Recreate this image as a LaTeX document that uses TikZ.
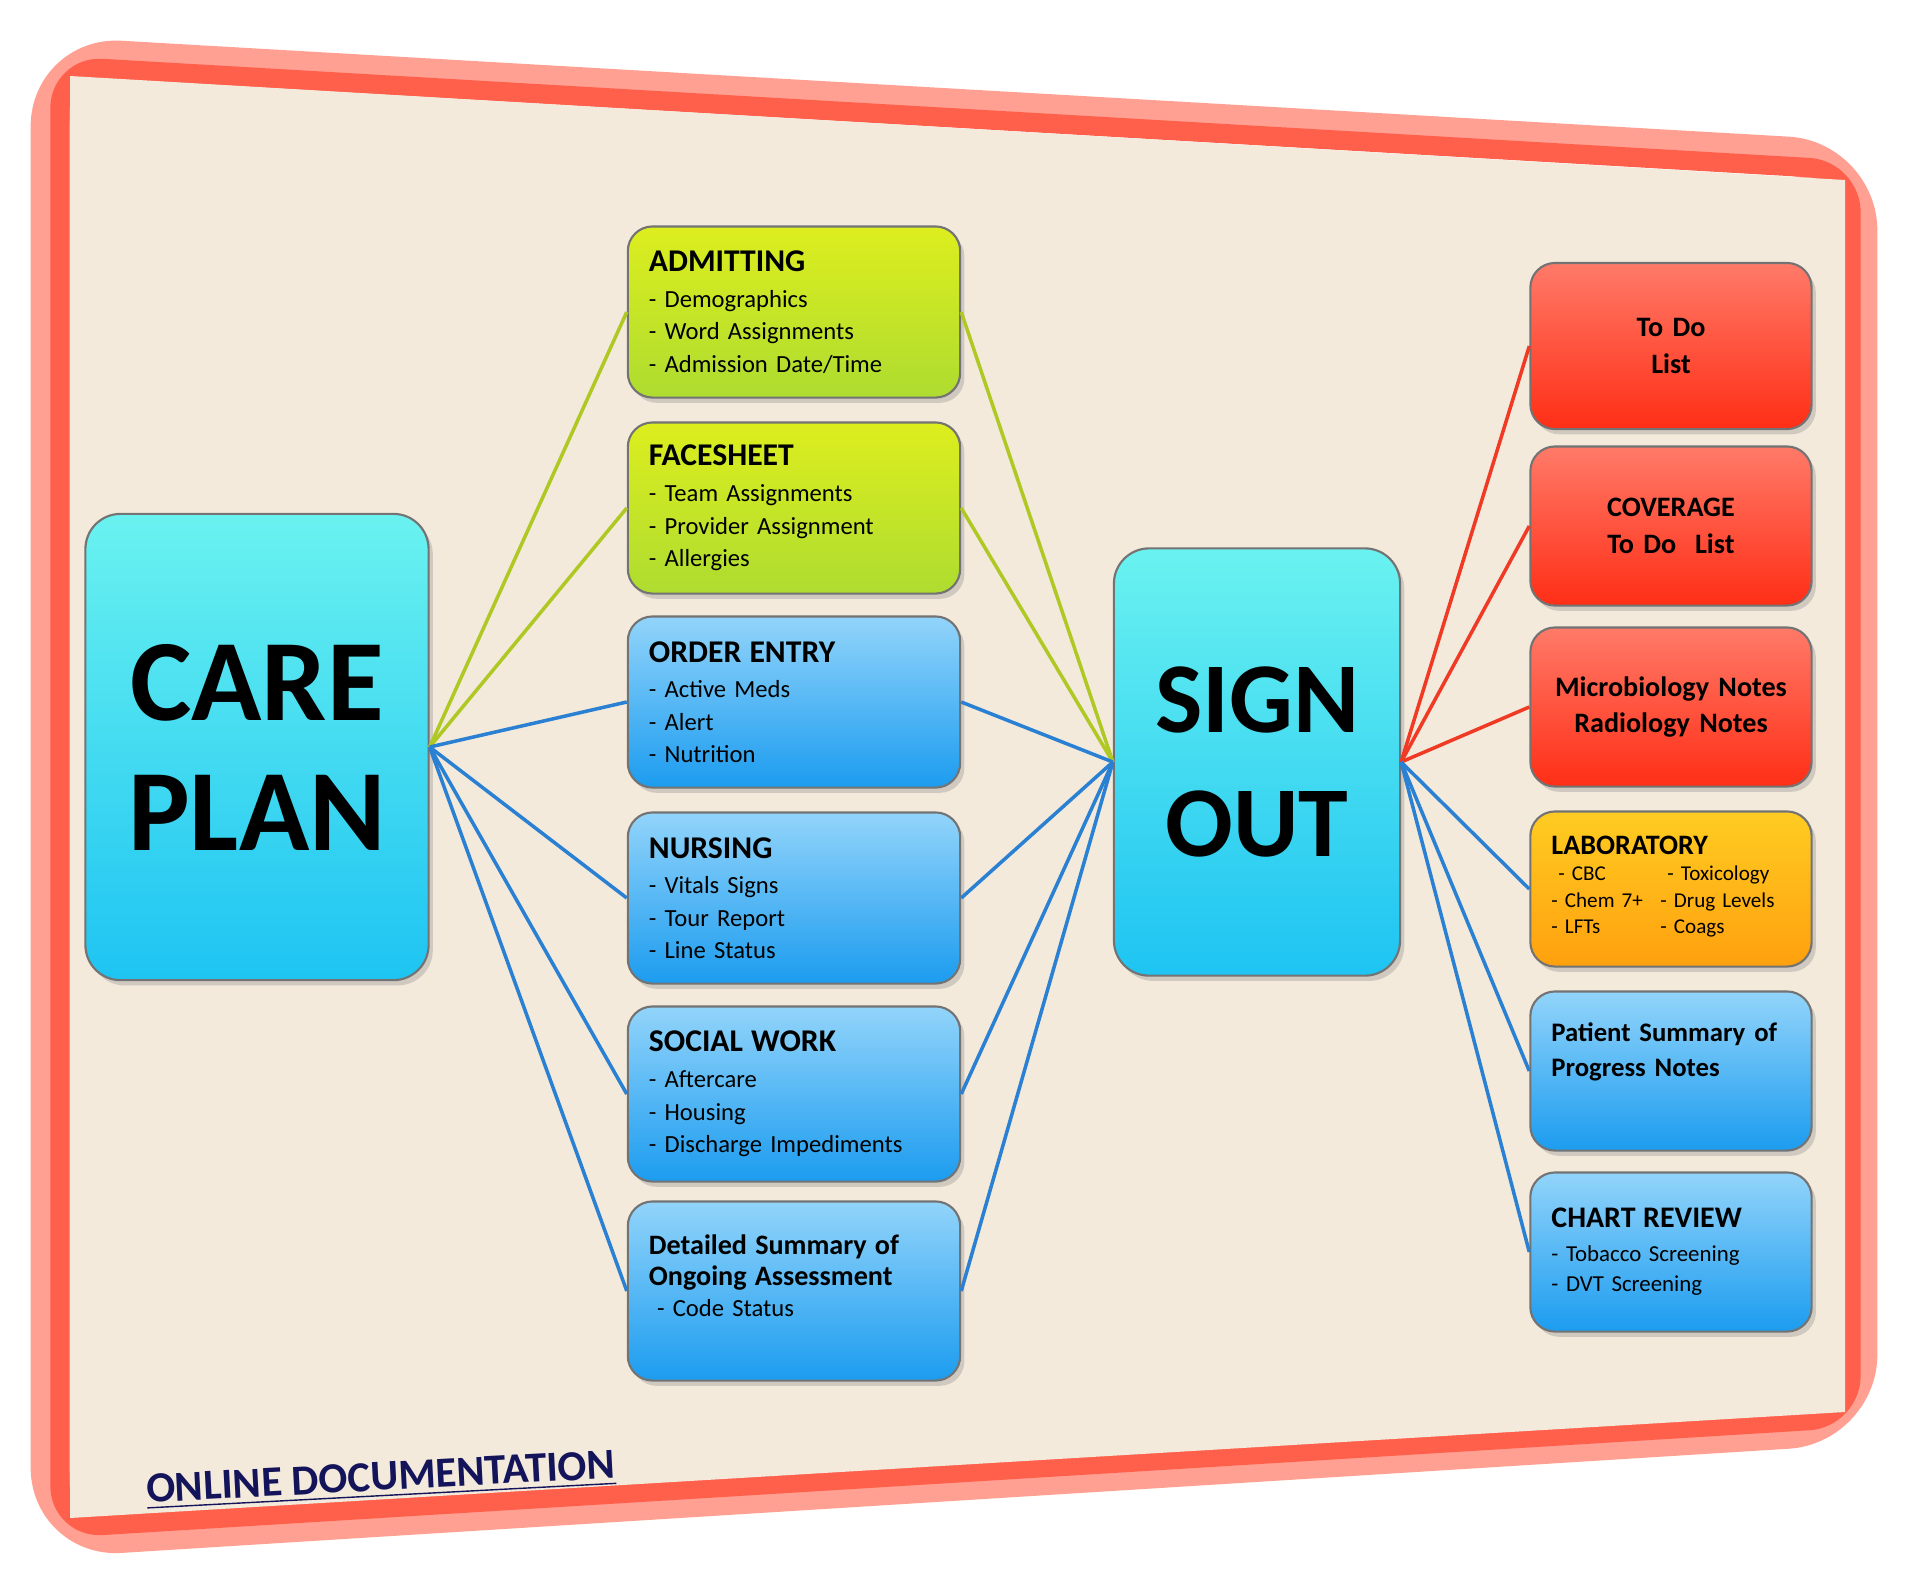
\documentclass[tikz,border=0pt]{standalone}
\usepackage{fontspec}
\setmainfont{Carlito}
\usetikzlibrary{shadows}
\newcommand{\hdr}[1]{{\fontsize{9}{10}\selectfont\bfseries #1}}

\begin{document}
\begin{tikzpicture}[x=0.01cm,y=-0.01cm,
  box/.style={rectangle,rounded corners=7pt,draw=black!55,line width=0.6pt,
    drop shadow={opacity=0.3,shadow xshift=1.2pt,shadow yshift=-1.5pt},
    inner xsep=6pt,align=left,font=\fontsize{7}{9.2}\selectfont},
  midbox/.style={box,text width=2.9cm,minimum height=1.71cm},
  rightbox/.style={box,text width=2.39cm,minimum height=1.59cm},
  bigbox/.style={box,rounded corners=10pt,top color=cyanT,bottom color=cyanB,align=center},
  leafbox/.style={top color=leafT,bottom color=leafB},
  skybox/.style={top color=skyT,bottom color=skyB},
  redbox/.style={top color=redT,bottom color=redB,align=center,text width=2.6cm,inner xsep=3pt,
    font=\fontsize{8}{10.5}\selectfont\bfseries},
  leafline/.style={draw=leafL,line width=1pt},
  skyline/.style={draw=skyL,line width=1pt},
  redline/.style={draw=redL,line width=1pt}]
\definecolor{cream}{HTML}{F3EADC}
\definecolor{framepink}{HTML}{FFA092}
\definecolor{framered}{HTML}{FF604C}
\definecolor{cyanT}{HTML}{6AF2F0}
\definecolor{cyanB}{HTML}{1EC4F2}
\definecolor{leafT}{HTML}{DDEE1E}
\definecolor{leafB}{HTML}{AEDC30}
\definecolor{skyT}{HTML}{92D4FA}
\definecolor{skyB}{HTML}{1C9CEF}
\definecolor{redT}{HTML}{FF7A68}
\definecolor{redB}{HTML}{FF2E16}
\definecolor{orangeT}{HTML}{FFCC22}
\definecolor{orangeB}{HTML}{FFA00E}
\definecolor{leafL}{HTML}{AFC824}
\definecolor{skyL}{HTML}{2A80D2}
\definecolor{redL}{HTML}{F03A24}
\definecolor{navy}{HTML}{14145A}
\useasboundingbox (0,0) rectangle (1920,1593);
\fill[white] (0,0) rectangle (1920,1593);
% frame
\draw[framepink,line width=11pt,rounded corners=20pt,line join=round]
  (50,56) -- (1858,160) -- (1858,1425) -- (50,1538) -- cycle;
\draw[framered,line width=5.5pt,rounded corners=12pt,line join=round]
  (60,66) -- (1851,170) -- (1851,1418) -- (60,1528) -- cycle;
\fill[cream] (70,76) -- (1845,180) -- (1845,1412) -- (70,1518) -- cycle;

% left and centre hubs
\node[bigbox,minimum width=3.43cm,minimum height=4.66cm,font=\fontsize{33}{37}\selectfont\bfseries]
  (careplan) at (257,747) {CARE\\PLAN};
\node[bigbox,minimum width=2.86cm,minimum height=4.27cm,font=\fontsize{28.5}{35}\selectfont\bfseries]
  (signout) at (1257,762) {SIGN\\OUT};

% middle column
\node[midbox,leafbox] (admitting) at (794,312) {\hdr{ADMITTING}\\[1pt]
  - Demographics\\- Word Assignments\\- Admission Date/Time};
\node[midbox,leafbox] (facesheet) at (794,508) {\hdr{FACESHEET}\\[1pt]
  - Team Assignments\\- Provider Assignment\\- Allergies};
\node[midbox,skybox] (orderentry) at (794,702) {\hdr{ORDER ENTRY}\\[1pt]
  - Active Meds\\- Alert\\- Nutrition};
\node[midbox,skybox] (nursing) at (794,898) {\hdr{NURSING}\\[1pt]
  - Vitals Signs\\- Tour Report\\- Line Status};
\node[midbox,skybox,minimum height=1.75cm] (socialwork) at (794,1094) {\hdr{SOCIAL WORK}\\[1pt]
  - Aftercare\\- Housing\\- Discharge Impediments};
\node[midbox,skybox,minimum height=1.79cm,font=\fontsize{7}{8.8}\selectfont] (detailed) at (794,1291)
  {{\fontsize{8}{9.5}\selectfont\bfseries Detailed Summary of}\\
  {\fontsize{8}{9.5}\selectfont\bfseries Ongoing Assessment}\\ \ - Code Status\\[0pt]\mbox{}};

% right column
\node[rightbox,redbox,minimum height=1.66cm] (todo) at (1671,346) {To Do\\List};
\node[rightbox,redbox] (coverage) at (1671,526) {COVERAGE\\To Do~~List};
\node[rightbox,redbox] (micro) at (1671,707) {Microbiology Notes\\Radiology Notes};
\node[rightbox,top color=orangeT,bottom color=orangeB,minimum height=1.55cm,font=\fontsize{6}{7.6}\selectfont]
  (lab) at (1671,889) {{\fontsize{8}{9}\selectfont\bfseries LABORATORY}\\[1pt]
  \begin{tabular}{@{}l@{\hspace{5pt}}l@{}}
  \ - CBC & \ - Toxicology\\
  - Chem 7+ & - Drug Levels\\
  - LFTs & - Coags
  \end{tabular}};
\node[rightbox,skybox,font=\fontsize{7.6}{10.2}\selectfont\bfseries] (patient) at (1671,1071)
  {Patient Summary of\\Progress Notes\\[2pt]\mbox{}};
\node[rightbox,skybox,font=\fontsize{6.5}{8.6}\selectfont] (chart) at (1671,1252)
  {{\fontsize{8.5}{9.5}\selectfont\bfseries CHART REVIEW}\\[1pt]
  - Tobacco Screening\\- DVT Screening};

% connectors
\foreach \n in {admitting,facesheet}
  {\draw[leafline] (careplan.east) -- (\n.west);
   \draw[leafline] (\n.east) -- (signout.west);}
\foreach \n in {orderentry,nursing,socialwork,detailed}
  {\draw[skyline] (careplan.east) -- (\n.west);
   \draw[skyline] (\n.east) -- (signout.west);}
\foreach \n in {todo,coverage,micro}
  \draw[redline] (signout.east) -- (\n.west);
\foreach \n in {lab,patient,chart}
  \draw[skyline] (signout.east) -- (\n.west);

\node[rotate=3,text=navy,font=\fontsize{12.2}{14}\selectfont\bfseries] (online) at (381,1480)
  {\underline{ONLINE DOCUMENTATION}};
\end{tikzpicture}
\end{document}
